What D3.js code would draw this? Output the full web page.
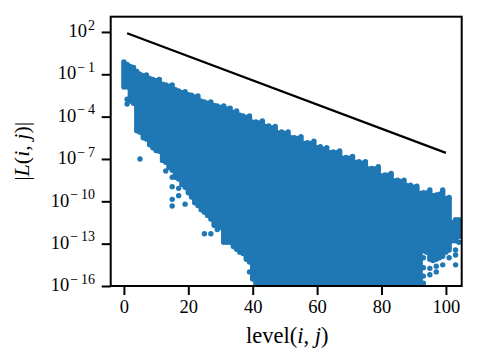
<!DOCTYPE html>
<html>
<head>
<meta charset="utf-8">
<script src="https://cdn.jsdelivr.net/npm/d3@7"></script>
<style>
  body { margin: 0; background: #fff; }
  text { font-family: "Liberation Serif", "DejaVu Serif", serif; fill: #000; }
</style>
</head>
<body>
<script>
// one column of scatter points per level: top / bottom of the dense band, as log10 |L|
var levels = [0,1,2,3,4,5,6,7,8,9,10,11,12,13,14,15,16,17,18,19,20,21,22,23,24,25,26,27,28,29,
  30,31,32,33,34,35,36,37,38,39,40,41,42,43,44,45,46,47,48,49,50,51,52,53,54,55,56,57,58,59,
  60,61,62,63,64,65,66,67,68,69,70,71,72,73,74,75,76,77,78,79,80,81,82,83,84,85,86,87,88,89,
  90,91,92,93,94,95,96,97,98,99,100,101,102,103,104];
var topExp = [-0.13,-0.3,-0.45,-0.52,-0.8,-1.0,-1.1,-1.05,-1.3,-1.36,
  -1.45,-1.36,-1.7,-1.76,-1.85,-1.76,-2.1,-2.18,-2.3,-2.23,
  -2.45,-2.49,-2.6,-2.54,-2.9,-2.96,-3.05,-2.96,-3.2,-3.24,
  -3.35,-3.24,-3.45,-3.4,-3.7,-3.6,-3.9,-3.95,-4.05,-3.95,
  -4.4,-4.38,-4.45,-4.3,-4.7,-4.66,-4.8,-4.7,-5.15,-5.09,
  -5.2,-5.09,-5.5,-5.49,-5.55,-5.42,-5.9,-5.85,-5.9,-5.74,
  -6.2,-6.13,-6.3,-6.2,-6.55,-6.5,-6.55,-6.43,-6.95,-6.9,
  -6.95,-6.83,-7.25,-7.2,-7.3,-7.2,-7.7,-7.67,-7.7,-7.55,
  -8.2,-8.14,-8.15,-8.03,-8.55,-8.5,-8.6,-8.5,-8.9,-8.85,
  -9.0,-8.93,-9.45,-9.39,-9.4,-9.2,-9.6,-9.55,-9.5,-9.2,
  -9.8,-9.72,-11.5,-11.3,-11.3];
var bottomExp = [-1.9,-1.9,-2.9,-3.0,-5.0,-5.1,-5.5,-5.58,-6.0,-6.2,
  -6.4,-6.45,-7.1,-7.23,-7.6,-7.8,-8.3,-8.42,-8.8,-9.0,
  -9.4,-9.7,-10.1,-10.3,-10.6,-10.78,-11.0,-11.25,-11.7,-12.0,
  -11.85,-12.9,-12.9,-12.9,-13.2,-13.4,-13.6,-13.7,-14.1,-14.3,
  -15.5,-17,-17,-17,-17,-17,-17,-17,-17,-17,
  -17,-17,-17,-17,-17,-17,-17,-17,-17,-17,
  -17,-17,-17,-17,-17,-17,-17,-17,-17,-17,
  -17,-17,-17,-17,-17,-17,-17,-17,-17,-17,
  -17,-17,-17,-17,-17,-17,-17,-17,-17,-17,
  -17,-17,-17,-13.5,-13.6,-14.1,-14.2,-14.1,-14.0,-13.9,
  -13.6,-13.45,-12.8,-12.8,-12.5];

// isolated points below the bands
var outlierLevels = [1,1,3,5,13,15,15,15,15,17,17,19,25,27,39,
  93,93,93,93,95,95,97,97,99,101,103,103,103,104];
var outlierExp = [-2.77,-3.1,-3.05,-7.0,-7.85,-8.3,-8.96,-9.86,-10.33,-9.08,-9.6,-10.2,-12.3,-12.3,-15.0,
  -14.0,-14.7,-15.3,-15.8,-14.75,-15.2,-14.6,-15.0,-14.5,-14.0,-13.45,-13.8,-14.5,-12.9];

// reference line
var lineLevels = [1, 100];
var lineValues = [82, 2.7e-7];

var xTicks = [0, 20, 40, 60, 80, 100];
var yTickExp = [2, -1, -4, -7, -10, -13, -16];

var draw = function() {
  let width = 480, height = 360;
  let box = { left: 110.7, right: 461.7, top: 16.7, bottom: 286 };
  let blue = '#1f77b4';

  let svg = d3.select('body').append('svg')
    .attr('width', width)
    .attr('height', height);

  let x = d3.scaleLinear().domain([-4.1, 104.9]).range([box.left, box.right]);
  let y = d3.scaleLog().domain([1e-16, Math.pow(10, 3.08)]).range([box.bottom, box.top]);

  svg.append('clipPath').attr('id', 'clip')
    .append('rect')
    .attr('x', box.left).attr('y', box.top)
    .attr('width', box.right - box.left).attr('height', box.bottom - box.top);

  let plot = svg.append('g').attr('clip-path', 'url(#clip)');

  let cols = levels.map((l, i) => ({ level: l, top: Math.pow(10, topExp[i]), bottom: Math.pow(10, bottomExp[i]) }));

  plot.selectAll('line.col')
    .data(cols)
    .enter()
    .append('line')
    .attr('class', 'col')
    .attr('x1', d => x(d.level)).attr('x2', d => x(d.level))
    .attr('y1', d => y(d.top)).attr('y2', d => y(d.bottom))
    .attr('stroke', blue)
    .attr('stroke-width', 5.4)
    .attr('stroke-linecap', 'round');

  plot.selectAll('circle.out')
    .data(outlierLevels.map((l, i) => ({ level: l, v: Math.pow(10, outlierExp[i]) })))
    .enter()
    .append('circle')
    .attr('class', 'out')
    .attr('cx', d => x(d.level))
    .attr('cy', d => y(d.v))
    .attr('r', 2.7)
    .attr('fill', blue);

  let line = d3.line().x(d => x(d[0])).y(d => y(d[1]));
  plot.append('path')
    .datum(lineLevels.map((l, i) => [l, lineValues[i]]))
    .attr('d', line)
    .attr('fill', 'none')
    .attr('stroke', '#000')
    .attr('stroke-width', 2.2);

  // axes
  let xAxis = d3.axisBottom(x).tickValues(xTicks).tickSize(9).tickPadding(5);
  let gx = svg.append('g').attr('transform', `translate(0,${box.bottom})`).call(xAxis);
  gx.select('.domain').remove();
  gx.selectAll('line').attr('stroke-width', 2);
  gx.selectAll('text').attr('font-size', 18.5).attr('dy', '0.71em')
    .attr('font-family', '"Liberation Serif", serif');

  let yAxis = d3.axisLeft(y).tickValues(yTickExp.map(e => Math.pow(10, e))).tickSize(9).tickFormat('');
  let gy = svg.append('g').attr('transform', `translate(${box.left},0)`).call(yAxis);
  gy.select('.domain').remove();
  gy.selectAll('line').attr('stroke-width', 2);

  let labels = svg.append('g').selectAll('text.ylab')
    .data(yTickExp)
    .enter()
    .append('text')
    .attr('class', 'ylab')
    .attr('x', 95)
    .attr('y', e => y(Math.pow(10, e)) + 5.2)
    .attr('text-anchor', 'end')
    .attr('font-size', 18.5);
  labels.append('tspan').text('10');
  labels.append('tspan')
    .attr('dx', 1)
    .attr('dy', -7.5)
    .attr('font-size', 14)
    .text(e => (e < 0 ? '\u2212\u2009' + (-e) : '' + e));

  // frame
  svg.append('rect')
    .attr('x', box.left).attr('y', box.top)
    .attr('width', box.right - box.left).attr('height', box.bottom - box.top)
    .attr('fill', 'none').attr('stroke', '#000').attr('stroke-width', 2);

  // axis titles
  let xt = svg.append('text')
    .attr('x', (box.left + box.right) / 2 + 1)
    .attr('y', 343)
    .attr('text-anchor', 'middle')
    .attr('font-size', 22.5);
  xt.append('tspan').text('level(');
  xt.append('tspan').attr('font-style', 'italic').text('i');
  xt.append('tspan').text(', ');
  xt.append('tspan').attr('font-style', 'italic').text('j');
  xt.append('tspan').text(')');

  let yt = svg.append('text')
    .attr('transform', `translate(29,${(box.top + box.bottom) / 2}) rotate(-90)`)
    .attr('text-anchor', 'middle')
    .attr('font-size', 22);
  yt.append('tspan').text('|');
  yt.append('tspan').attr('font-style', 'italic').text('L');
  yt.append('tspan').text('(');
  yt.append('tspan').attr('font-style', 'italic').text('i');
  yt.append('tspan').text(', ');
  yt.append('tspan').attr('font-style', 'italic').text('j');
  yt.append('tspan').text(')|');
};

draw();
</script>
</body>
</html>
